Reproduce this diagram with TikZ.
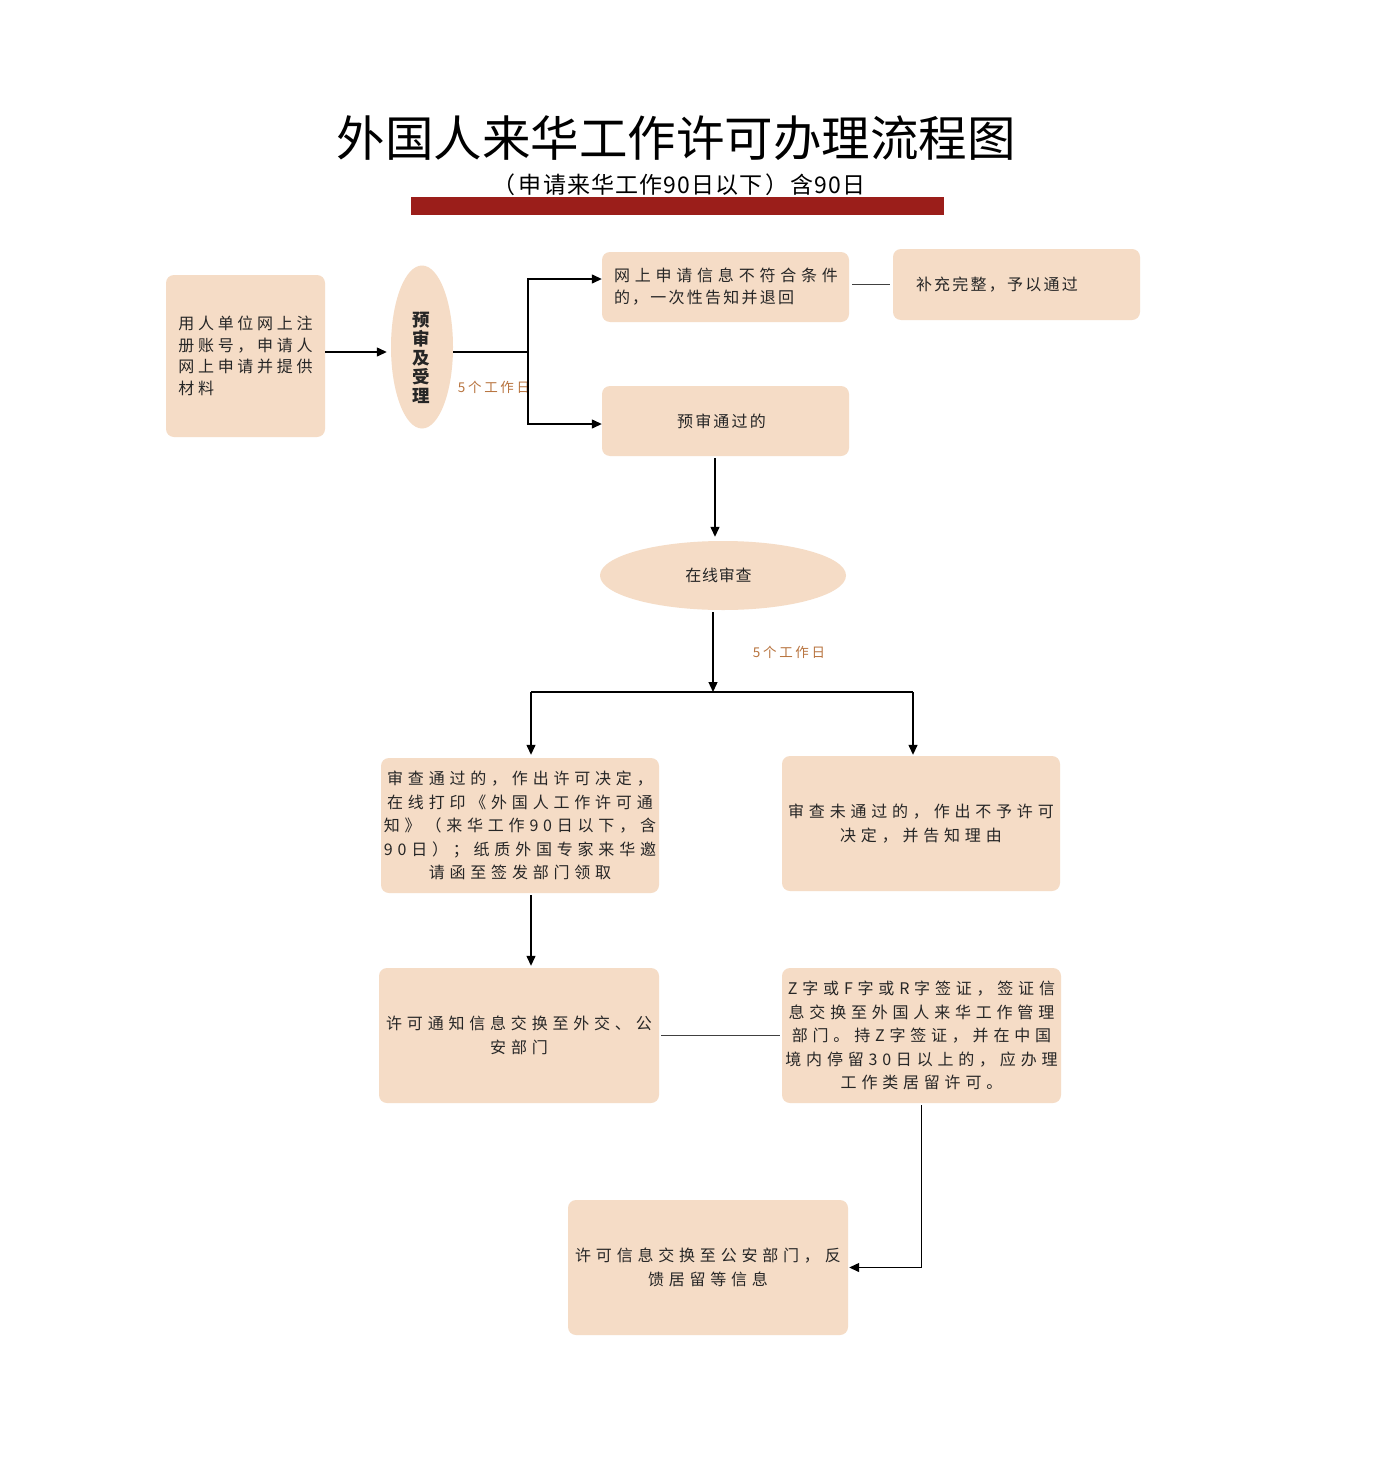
\documentclass[tikz,border=0pt]{standalone}
\usepackage{fontspec}
\setmainfont{Noto Sans CJK SC}
\newfontfamily\cjk{Noto Sans CJK SC}
\newfontfamily\cjksp[LetterSpace=30]{Noto Sans CJK SC}
\newfontfamily\cjkspa[LetterSpace=23]{Noto Sans CJK SC}
\newfontfamily\cjkspc[LetterSpace=14]{Noto Sans CJK SC}
\newfontfamily\cjkspe[LetterSpace=5]{Noto Sans CJK SC}
\newfontfamily\cjkspt[LetterSpace=20]{Noto Sans CJK SC}
\usetikzlibrary{arrows.meta,shapes.geometric}
\definecolor{boxfill}{HTML}{F5DCC6}
\definecolor{txt}{HTML}{262626}
\definecolor{lbl}{HTML}{B8743F}
\definecolor{barred}{HTML}{9B1E1A}
\tikzset{
  box/.style={fill=boxfill, draw=none, rounded corners=8pt, inner sep=0pt, text=txt, align=center,
    font=\cjksp\fontsize{16}{23.5}\selectfont},
  oval/.style={ellipse, fill=boxfill, draw=none, inner sep=0pt, text=txt},
  conn/.style={line width=1.3pt, draw=black},
  thinconn/.style={line width=0.9pt, draw=black!75},
  arr/.style={conn, -{Triangle[length=10pt,width=9pt]}},
  daylbl/.style={text=lbl, font=\cjkspt\fontsize{13.5}{15}\selectfont, inner sep=0pt},
}
\begin{document}
\begin{tikzpicture}[x=1pt,y=-1pt]
\useasboundingbox[fill=white] (0,0) rectangle (1378,1482);

% title
\node[font=\cjk\fontsize{48.5}{52}\selectfont, inner sep=0pt] (title) at (676,138) {外国人来华工作许可办理流程图};
\fill[barred] (411,197) rectangle (944,215);
\node[font=\cjkspe\fontsize{23}{26}\selectfont, inner sep=0pt] (sub) at (679,185) {（\hspace{3pt}申请来华工作90日以下\hspace{3pt}）含90日};

% nodes
\node[box, minimum width=159pt, minimum height=162pt, align=left, font=\cjkspa\fontsize{16}{21.7}\selectfont] (A) at (245.5,356)
  {用人单位网上注\\册账号，申请人\\网上申请并提供\\材料};
\node[oval, minimum width=62pt, minimum height=163pt] (P) at (422,347) {};
\node[text=txt, align=center, inner sep=0pt, font=\cjk\bfseries\fontsize{17.5}{19}\selectfont] (Ptext) at (421,358) {预\\审\\及\\受\\理};
\node[box, minimum width=247pt, minimum height=70pt, align=left, text width=223pt, inner xsep=12pt, font=\cjksp\fontsize{16}{22}\selectfont] (B) at (725.5,287)
  {网上申请信息不符合条件\\{\cjkspc 的，一次性告知并退回}};
\node[box, minimum width=247pt, minimum height=71pt, align=left, text width=201pt, inner xsep=23pt, font=\cjkspc\fontsize{16}{22}\selectfont] (C) at (1016.5,284.5)
  {补充完整，予以通过};
\node[box, minimum width=247pt, minimum height=70pt, font=\cjkspc\fontsize{16}{22}\selectfont] (D) at (725.5,421) {\hspace*{-8pt}预审通过的};
\node[oval, minimum width=246pt, minimum height=69pt, font=\cjkspe\fontsize{16}{18}\selectfont] (E) at (723,575.5) {\hspace*{-9pt}在线审查};
\node[box, minimum width=278pt, minimum height=135pt] (F) at (520,825.5)
  {审查通过的，作出许可决定，\\在线打印《外国人工作许可通\\知》（来华工作90日以下，含\\90日）；纸质外国专家来华邀\\请函至签发部门领取};
\node[box, minimum width=278pt, minimum height=135pt] (G) at (921,823.5)
  {审查未通过的，作出不予许可\\决定，并告知理由};
\node[box, minimum width=280pt, minimum height=135pt] (H) at (519,1035.5)
  {许可通知信息交换至外交、公\\安部门};
\node[box, minimum width=279pt, minimum height=135pt] (I) at (921.5,1035.5)
  {Z字或F字或R字签证，签证信\\息交换至外国人来华工作管理\\部门。持Z字签证，并在中国\\境内停留30日以上的，应办理\\工作类居留许可。};
\node[box, minimum width=280pt, minimum height=135pt] (J) at (708,1267.5)
  {许可信息交换至公安部门，反\\馈居留等信息};

% labels
\node[daylbl] (L1) at (494,387) {5个工作日};
\node[daylbl] (L2) at (789,652) {5个工作日};

% connectors
\coordinate (br) at (528,352);
\coordinate (sp) at (713,692);
\coordinate (sl) at (531,692);
\coordinate (sr) at (913,692);
\coordinate (dx) at (715,0);

\draw[arr] (A.east |- br) -- ([xshift=-4pt]P.west |- br);
\draw[conn] (P.east |- br) -- (br);
\draw[arr] (br) |- ([yshift=8pt]B.west);
\draw[arr] (br) |- ([yshift=-3pt]D.west);
\draw[thinconn] ([xshift=3pt]B.east |- C.west) -- ([xshift=-3pt]C.west);
\draw[arr] ([yshift=-2pt]D.south -| dx) -- ([yshift=4pt]E.north -| dx);
\draw[arr] ([yshift=-2pt]E.south -| sp) -- (sp);
\draw[conn] (sl) -- (sr);
\draw[arr] (sl) -- ([yshift=3pt]sl |- F.north);
\draw[arr] (sr) -- ([yshift=1pt]sr |- G.north);
\draw[arr] ([yshift=-2pt]F.south -| sl) -- ([yshift=2pt]H.north -| sl);
\draw[thinconn] ([xshift=2pt]H.east) -- ([xshift=-2pt]I.west);
\draw[arr] ([yshift=-2pt]I.south) |- ([xshift=1pt]J.east);
\end{tikzpicture}
\end{document}
